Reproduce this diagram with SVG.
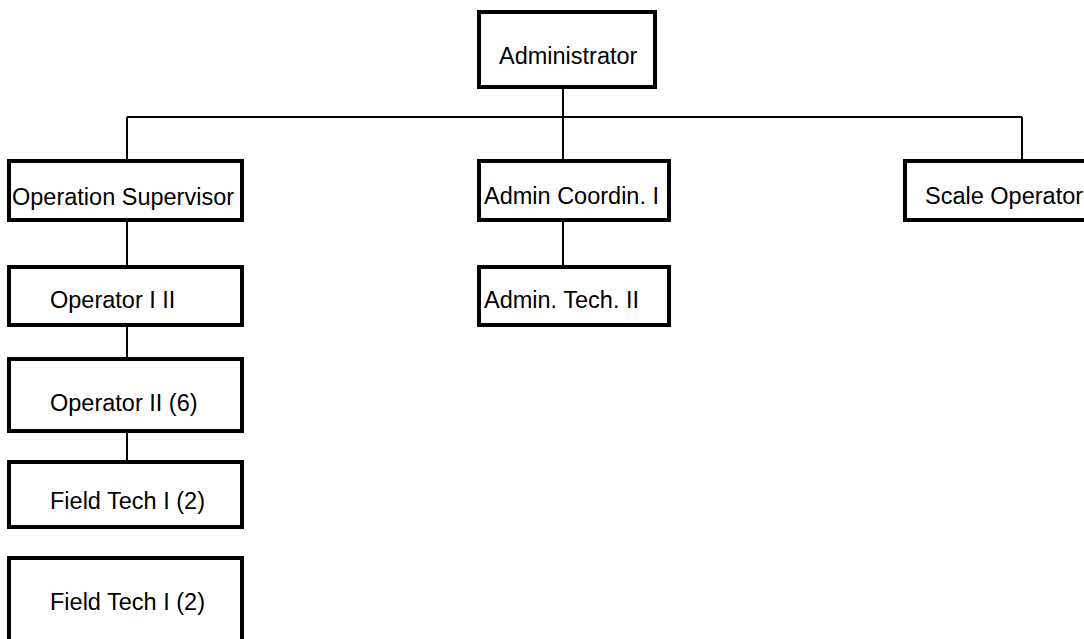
<svg xmlns="http://www.w3.org/2000/svg" width="1084" height="639" viewBox="0 0 1084 639">
  <style>
    .box { fill: #ffffff; stroke: #000000; stroke-width: 4; }
    .lbl { font-family: "Liberation Sans", Arial, sans-serif; font-size: 23.5px; fill: #000000; }
    .wire { fill: none; stroke: #000000; stroke-width: 2; }
  </style>
  <rect width="1084" height="639" fill="#ffffff"/>

  <!-- reporting lines -->
  <g id="connectors">
    <path class="wire" d="M563 87 V161"/>
    <path class="wire" d="M127 117 H1022"/>
    <path class="wire" d="M127 117 V161"/>
    <path class="wire" d="M1022 117 V161"/>
    <path class="wire" d="M563 220 V267"/>
    <path class="wire" d="M127 220 V267"/>
    <path class="wire" d="M127 325 V359"/>
    <path class="wire" d="M127 431 V462"/>
  </g>

  <g id="administrator">
    <rect class="box" x="479" y="12" width="176" height="75"/>
    <text class="lbl" x="499" y="64">Administrator</text>
  </g>
  <g id="operation-supervisor">
    <rect class="box" x="9" y="161" width="233" height="59"/>
    <text class="lbl" x="12" y="205">Operation Supervisor</text>
  </g>
  <g id="admin-coordin">
    <rect class="box" x="479" y="161" width="190" height="59"/>
    <text class="lbl" x="484" y="204">Admin Coordin. I</text>
  </g>
  <g id="scale-operator">
    <rect class="box" x="905" y="161" width="190" height="59"/>
    <text class="lbl" x="925" y="204">Scale Operator</text>
  </g>
  <g id="admin-tech">
    <rect class="box" x="479" y="267" width="190" height="58"/>
    <text class="lbl" x="484" y="308">Admin. Tech. II</text>
  </g>
  <g id="operator-1-2">
    <rect class="box" x="9" y="267" width="233" height="58"/>
    <text class="lbl" x="50" y="308">Operator I II</text>
  </g>
  <g id="operator-2">
    <rect class="box" x="9" y="359" width="233" height="72"/>
    <text class="lbl" x="50" y="411">Operator II (6)</text>
  </g>
  <g id="field-tech-a">
    <rect class="box" x="9" y="462" width="233" height="65"/>
    <text class="lbl" x="50" y="509">Field Tech I (2)</text>
  </g>
  <g id="field-tech-b">
    <rect class="box" x="9" y="558" width="233" height="95"/>
    <text class="lbl" x="50" y="610">Field Tech I (2)</text>
  </g>
</svg>
